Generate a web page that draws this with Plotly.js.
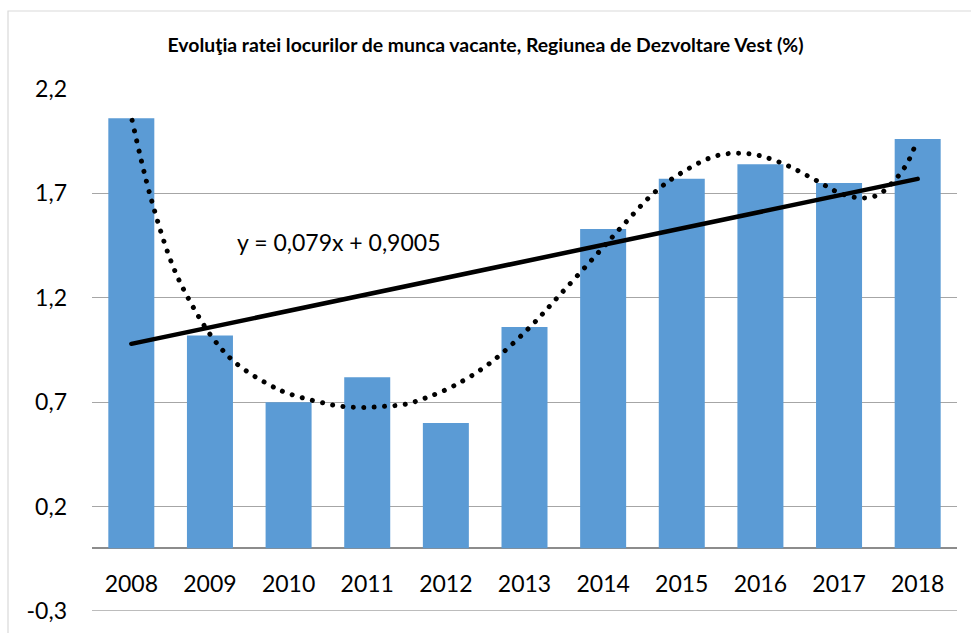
<!DOCTYPE html>
<html>
<head>
<meta charset="utf-8">
<script src="https://cdn.plot.ly/plotly-3.0.1.min.js"></script>
<style>
  html, body { margin: 0; padding: 0; background: #fff; }
  #chart { width: 971px; height: 633px; }
</style>
</head>
<body>
<div id="chart"></div>
<script>
// ---- data ----
const years = [2008, 2009, 2010, 2011, 2012, 2013, 2014, 2015, 2016, 2017, 2018];
const yearLabels = ["2008", "2009", "2010", "2011", "2012", "2013", "2014", "2015", "2016", "2017", "2018"];
const rates = [2.06, 1.02, 0.70, 0.82, 0.60, 1.06, 1.53, 1.77, 1.84, 1.75, 1.96];

// linear trendline shown in chart: y = 0,079x + 0,9005 (x = 1..11)
const trendSlope = 0.079;
const trendIntercept = 0.9005;

// polynomial trendline (dotted)
const polyX = [2008.01, 2008.24, 2008.52, 2008.75, 2009.04, 2009.32, 2009.77, 2010.01, 2010.40, 2010.67,
               2010.94, 2011.21, 2011.48, 2011.74, 2012.11, 2012.57, 2013.07, 2013.44, 2013.90, 2014.26,
               2014.64, 2014.96, 2015.44, 2015.85, 2016.24, 2016.72, 2016.96, 2017.22, 2017.48, 2017.70,
               2017.86, 2017.97, 2018.0];
const polyY = [2.05, 1.69, 1.36, 1.18, 1.005, 0.89, 0.78, 0.74, 0.70, 0.68,
               0.675, 0.68, 0.69, 0.72, 0.78, 0.89, 1.06, 1.21, 1.40, 1.55,
               1.70, 1.79, 1.88, 1.89, 1.85, 1.76, 1.71, 1.68, 1.69, 1.76,
               1.84, 1.93, 1.955];

const yTickVals = [-0.3, 0.2, 0.7, 1.2, 1.7, 2.2];
const yTickText = ["-0,3", "0,2", "0,7", "1,2", "1,7", "2,2"];

const titleText = "Evoluţia ratei locurilor de munca vacante, Regiunea de Dezvoltare Vest (%)";
const equationText = "y = 0,079x + 0,9005";

// ---- build ----
const trendX = [years[0], years[years.length - 1]];
const trendY = [trendSlope * 1 + trendIntercept, trendSlope * years.length + trendIntercept];

const yMin = -0.3, yMax = 2.2;
const gridColor = '#A6A6A6';

const traces = [
  {
    type: 'bar', x: years, y: rates,
    marker: { color: '#5B9BD5', line: { width: 0 } },
    hoverinfo: 'x+y', showlegend: false
  },
  {
    type: 'scatter', mode: 'lines', x: trendX, y: trendY,
    line: { color: '#000000', width: 4.5 },
    showlegend: false, hoverinfo: 'skip'
  },
  {
    type: 'scatter', mode: 'lines', x: polyX, y: polyY,
    line: { color: '#000000', width: 5, shape: 'spline', smoothing: 1, dash: 'dot' },
    showlegend: false, hoverinfo: 'skip'
  }
];

const font = "Lato, 'Open Sans', sans-serif";

const layout = {
  width: 971, height: 633,
  margin: { l: 92, r: 14, t: 89, b: 22, pad: 0 },
  paper_bgcolor: '#ffffff', plot_bgcolor: 'rgba(0,0,0,0)',
  separators: ', ',
  bargap: 0.415,
  font: { family: font, size: 23, color: '#000000' },
  title: {
    text: '<b>' + titleText + '</b>',
    font: { family: font, size: 19.4, color: '#000000' },
    x: 0.5, xref: 'container', xanchor: 'center',
    y: 1 - 45 / 633, yref: 'container', yanchor: 'middle'
  },
  xaxis: {
    type: 'linear',
    range: [2007.5, 2018.5],
    tickvals: years, ticktext: yearLabels,
    showgrid: false, zeroline: false, showline: false,
    ticks: '', ticklabelstandoff: 20,
    anchor: 'free', position: (0 - yMin) / (yMax - yMin),
    tickfont: { family: font, size: 23, color: '#000000' },
    fixedrange: true
  },
  yaxis: {
    range: [yMin, yMax],
    tickvals: yTickVals, ticktext: yTickText,
    showgrid: true, gridcolor: gridColor, gridwidth: 1.3,
    zeroline: true, zerolinecolor: '#8C8C8C', zerolinewidth: 1.8,
    showline: false, ticks: '', ticklabelstandoff: 24,
    tickfont: { family: font, size: 23, color: '#000000' },
    fixedrange: true
  },
  annotations: [{
    text: equationText, xref: 'x', yref: 'y',
    x: 2010.63, y: 1.468, showarrow: false,
    xanchor: 'center', yanchor: 'middle',
    font: { family: font, size: 23, color: '#000000' }
  }],
  shapes: [
    {
      type: 'rect', xref: 'paper', yref: 'paper',
      x0: (8 - 92) / 865, x1: (990 - 92) / 865,
      y0: (611 - 660) / 522, y1: (611 - 11) / 522,
      line: { color: '#D9D9D9', width: 1.2 }, fillcolor: 'rgba(0,0,0,0)',
      layer: 'below'
    },
    {
      type: 'line', xref: 'paper', yref: 'y',
      x0: 0, x1: 1, y0: yMin, y1: yMin,
      line: { color: gridColor, width: 1.5 },
      layer: 'above'
    }
  ]
};

const gd = document.getElementById('chart');
function styleLines() {
  const lines = gd.querySelectorAll('.scatterlayer .trace .js-line');
  if (lines.length >= 2) {
    lines[0].style.strokeLinecap = 'round';
    lines[1].style.strokeLinecap = 'round';
    lines[1].style.strokeDasharray = '0.01px,10.4px';
  }
}
Plotly.newPlot(gd, traces, layout, { displayModeBar: false, staticPlot: true }).then(function () {
  styleLines();
  gd.on('plotly_afterplot', styleLines);
});
</script>
</body>
</html>
